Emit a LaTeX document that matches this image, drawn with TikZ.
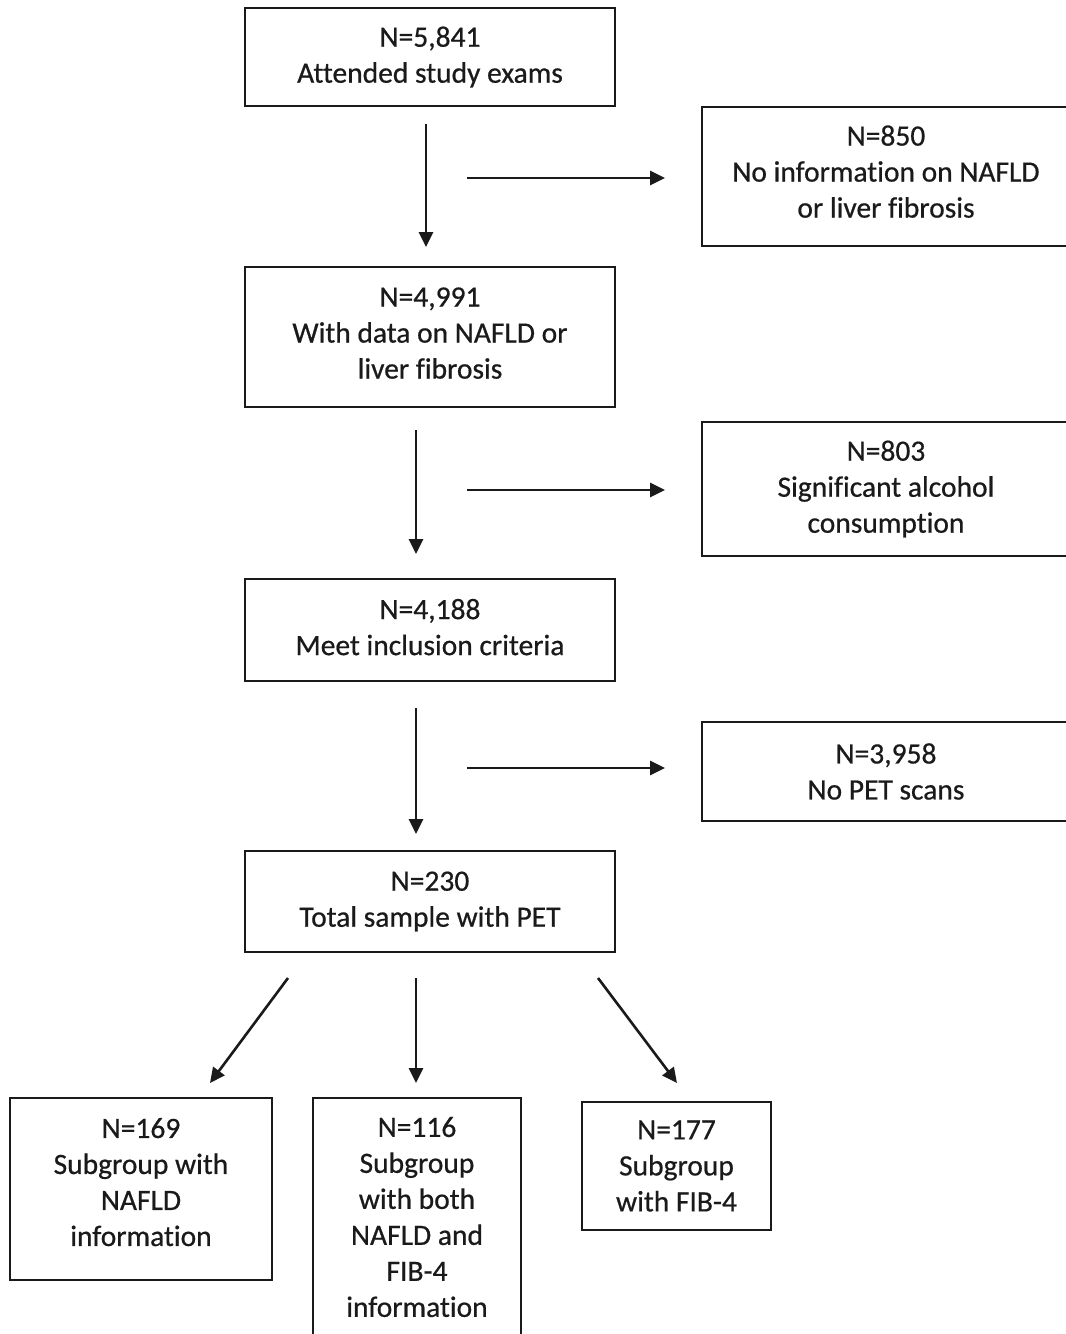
\documentclass[tikz,border=0pt]{standalone}
\usepackage{fontspec}
\setmainfont[Ligatures=NoCommon,BoldFont=Carlito,BoldFeatures={FakeBold=0.6}]{Carlito}
\usetikzlibrary{arrows.meta,positioning,calc}
\definecolor{ink}{HTML}{1A1A1A}

\begin{document}
\begin{tikzpicture}[x=1pt,y=-1pt,>={Triangle[length=15pt,width=14pt]},
  box/.style={draw=ink,line width=1.8pt,align=center,inner sep=0pt,
              font=\fontsize{29.5}{36}\selectfont\bfseries,text=ink},
  lift/.style={text depth=#1},
  flow/.style={->,draw=ink,fill=ink,line width=2.6pt}]

\useasboundingbox (0,0) rectangle (1066,1334);
\clip (0,0) rectangle (1066,1334);
\fill[white] (0,0) rectangle (1066,1334);

% main column
\node[box,minimum width=370pt,minimum height=98pt] (attend) at (430,57)
  {N=5,841\\ Attended study exams};
\node[box,lift=8pt,minimum width=370pt,minimum height=140pt] (data) at (430,337)
  {N=4,991\\ With data on NAFLD or\\ liver fibrosis};
\node[box,lift=6pt,minimum width=370pt,minimum height=102pt] (meet) at (430,630)
  {N=4,188\\ Meet inclusion criteria};
\node[box,minimum width=370pt,minimum height=101pt] (total) at (430,901.5)
  {N=230\\ Total sample with PET};

% exclusions
\node[box,lift=10pt,minimum width=368pt,minimum height=139pt] (noinfo) at (886,176.5)
  {N=850\\ No information on NAFLD\\ or liver fibrosis};
\node[box,minimum width=368pt,minimum height=134pt] (alcohol) at (886,489)
  {N=803\\ Significant alcohol\\ consumption};
\node[box,minimum width=368pt,minimum height=99pt] (nopet) at (886,771.5)
  {N=3,958\\ No PET scans};

% subgroups
\node[box,lift=14pt,minimum width=262pt,minimum height=182pt] (nafld) at (141,1189)
  {N=169\\ Subgroup with\\ NAFLD\\ information};
\node[box,minimum width=208pt,minimum height=238pt] (both) at (417,1217)
  {N=116\\ Subgroup\\ with both\\ NAFLD and\\ FIB-4\\ information};
\node[box,minimum width=189pt,minimum height=128pt] (fib) at (676.5,1166)
  {N=177\\ Subgroup\\ with FIB-4};

% arrow ends
\coordinate (v1a) at (426,124);  \coordinate (v1b) at (426,247);
\coordinate (v2a) at (416,430);  \coordinate (v2b) at (416,554);
\coordinate (v3a) at (416,708);  \coordinate (v3b) at (416,834);
\coordinate (h1) at (467,178);
\coordinate (h2) at (467,490);
\coordinate (h3) at (467,768);
\coordinate (d1a) at (288,978);  \coordinate (d1b) at (210,1083);
\coordinate (d2a) at (416,978);  \coordinate (d2b) at (416,1083);
\coordinate (d3a) at (598,978);  \coordinate (d3b) at (677,1083);

\draw[flow] (v1a) -- (v1b);
\draw[flow] (v2a) -- (v2b);
\draw[flow] (v3a) -- (v3b);
\draw[flow,shorten >=36pt] (h1) -- (h1 -| noinfo.west);
\draw[flow,shorten >=36pt] (h2) -- (h2 -| alcohol.west);
\draw[flow,shorten >=36pt] (h3) -- (h3 -| nopet.west);
\draw[flow] (d1a) -- (d1b);
\draw[flow] (d2a) -- (d2b);
\draw[flow] (d3a) -- (d3b);
\end{tikzpicture}
\end{document}
